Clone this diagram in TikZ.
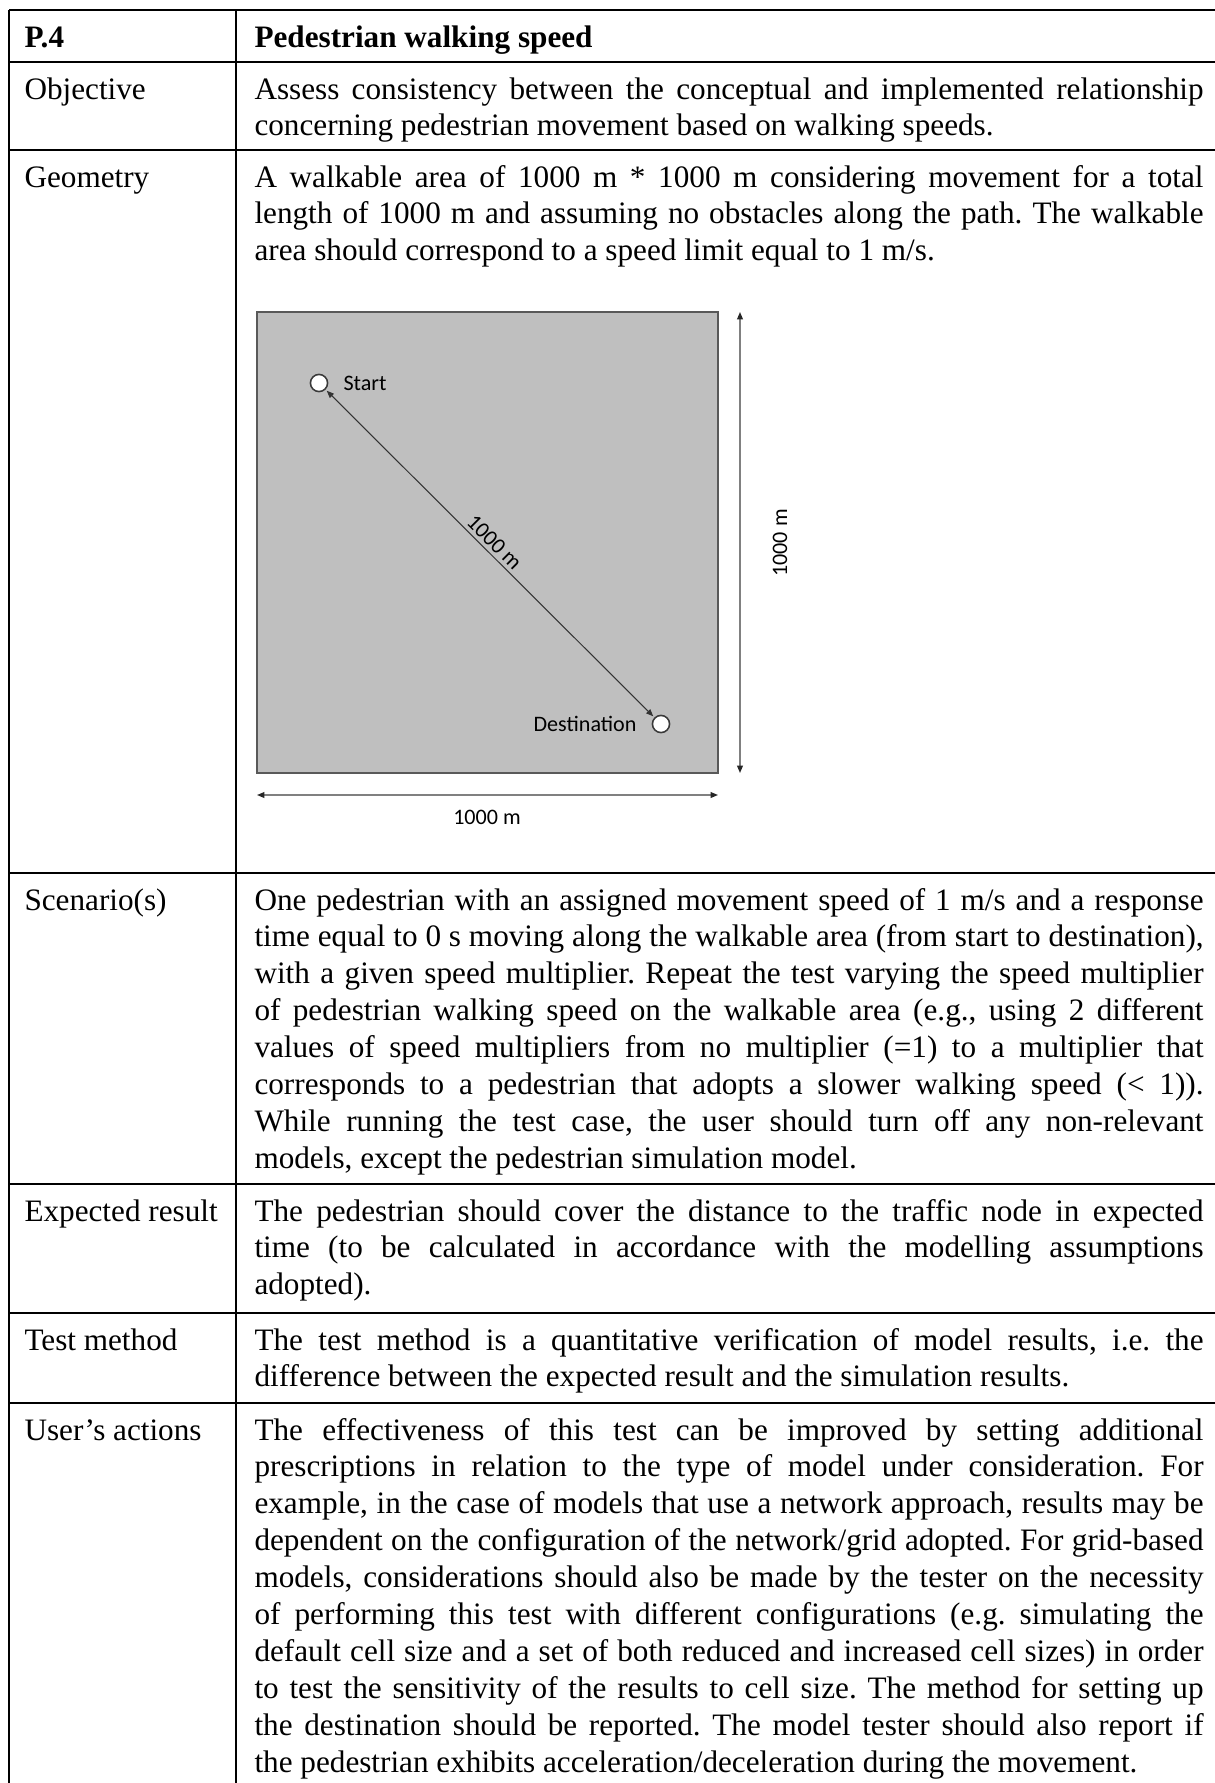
\documentclass[tikz,border=0pt]{standalone}
\usepackage{fontspec}
\setmainfont{Liberation Serif}
\newfontfamily\figfont{Carlito}
\usetikzlibrary{arrows.meta}

\definecolor{areafill}{HTML}{BFBFBF}
\definecolor{areaedge}{HTML}{595959}
\definecolor{spotedge}{HTML}{3A3A3A}
\definecolor{dimline}{HTML}{808080}
\definecolor{tipcol}{HTML}{262626}

% width of the text column and justified / ragged lines of a cell
\newlength{\cellw}
\setlength{\cellw}{365pt}
\newcommand{\jl}[1]{\hbox to \cellw{#1}}
\newcommand{\lastl}[1]{\hbox{#1}}
\newcommand{\cell}[1]{\vtop{\frenchspacing\baselineskip=14.2pt\lineskiplimit=-5pt #1}}

\begin{document}
\begin{tikzpicture}[x=0.3846pt,y=-0.3846pt,
  rule/.style={line width=0.8pt,black},
  rowname/.style={anchor=base west,inner sep=0,font=\fontsize{12}{14.2}\selectfont},
  celltext/.style={anchor=base west,inner sep=0,font=\fontsize{12}{14.2}\selectfont},
  figtext/.style={inner sep=0,font=\figfont\fontsize{8.5}{10}\selectfont},
  spot/.style={circle,draw=spotedge,fill=white,line width=0.6pt,minimum size=6.6pt,inner sep=0},
  diag/.style={draw=black!80,line width=0.4pt,
    {Triangle[length=2.8pt,width=2.2pt]}-{Triangle[length=2.8pt,width=2.2pt]},
    shorten <=0.6pt,shorten >=0.6pt},
  dim/.style={draw=dimline,line width=0.5pt,
    {Triangle[length=2.8pt,width=2.2pt,color=tipcol]}-{Triangle[length=2.8pt,width=2.2pt,color=tipcol]}}
]
\useasboundingbox (0,0) rectangle (1215,1783);

% ---- table rules
\draw[rule] (9,10) -- (1215,10);
\draw[rule] (9,62) -- (1215,62);
\draw[rule] (9,150) -- (1215,150);
\draw[rule] (9,873) -- (1215,873);
\draw[rule] (9,1184) -- (1215,1184);
\draw[rule] (9,1313) -- (1215,1313);
\draw[rule] (9,1403) -- (1215,1403);
\draw[rule] (9,10) -- (9,1783);
\draw[rule] (236,10) -- (236,1783);

% ---- left column
\node[rowname,font=\fontsize{12}{14.2}\selectfont\bfseries] (hid) at (24,47) {P.4};
\node[rowname] (nobj) at (24,99) {Objective};
\node[rowname] (ngeo) at (24,187) {Geometry};
\node[rowname] (nscn) at (24,910) {Scenario(s)};
\node[rowname] (nexp) at (24,1221) {Expected result};
\node[rowname] (ntst) at (24,1350) {Test method};
\node[rowname] (nusr) at (24,1440) {User’s actions};

% ---- right column
\node[celltext,font=\fontsize{12}{14.2}\selectfont\bfseries] (htitle) at (254,47) {Pedestrian walking speed};

\node[celltext] (tobj) at (254,99) {\cell{%
\jl{Assess consistency between the conceptual and implemented relationship}%
\lastl{concerning pedestrian movement based on walking speeds.}}};

\node[celltext] (tgeo) at (254,187) {\cell{%
\jl{A walkable area of 1000 m * 1000 m considering movement for a total}%
\jl{length of 1000 m and assuming no obstacles along the path. The walkable}%
\lastl{area should correspond to a speed limit equal to 1 m/s.}}};

\node[celltext] (tscn) at (254,910) {\cell{%
\jl{One pedestrian with an assigned movement speed of 1 m/s and a response}%
\jl{time equal to 0 s moving along the walkable area (from start to destination),}%
\jl{with a given speed multiplier. Repeat the test varying the speed multiplier}%
\jl{of pedestrian walking speed on the walkable area (e.g., using 2 different}%
\jl{values of speed multipliers from no multiplier (=1) to a multiplier that}%
\jl{corresponds to a pedestrian that adopts a slower walking speed (< 1)).}%
\jl{While running the test case, the user should turn off any non-relevant}%
\lastl{models, except the pedestrian simulation model.}}};

\node[celltext] (texp) at (254,1221) {\cell{%
\jl{The pedestrian should cover the distance to the traffic node in expected}%
\jl{time (to be calculated in accordance with the modelling assumptions}%
\lastl{adopted).}}};

\node[celltext] (ttst) at (254,1350) {\cell{%
\jl{The test method is a quantitative verification of model results, i.e. the}%
\lastl{difference between the expected result and the simulation results.}}};

\node[celltext] (tusr) at (254,1440) {\cell{%
\jl{The effectiveness of this test can be improved by setting additional}%
\jl{prescriptions in relation to the type of model under consideration. For}%
\jl{example, in the case of models that use a network approach, results may be}%
\jl{dependent on the configuration of the network/grid adopted. For grid-based}%
\jl{models, considerations should also be made by the tester on the necessity}%
\jl{of performing this test with different configurations (e.g. simulating the}%
\jl{default cell size and a set of both reduced and increased cell sizes) in order}%
\jl{to test the sensitivity of the results to cell size. The method for setting up}%
\jl{the destination should be reported. The model tester should also report if}%
\lastl{the pedestrian exhibits acceleration/deceleration during the movement.}}};

% ---- walkable area figure
\draw[fill=areafill,draw=areaedge,line width=0.7pt] (257,312) rectangle (718,773);
\node[spot] (start) at (319,383) {};
\node[spot] (dest) at (661,724) {};
\node[figtext,anchor=base west] (startlbl) at (343,390) {Start};
\node[figtext,anchor=base east] (destlbl) at (637,731) {Destination};
\draw[diag] (start) -- node[figtext,sloped,anchor=south,inner sep=1.2pt,pos=0.49] (diaglbl) {1000 m} (dest);

\coordinate (vtop) at (740,312);
\coordinate (vbot) at (740,773);
\draw[dim] (vtop) -- (vbot);
\node[figtext,rotate=90] (vlbl) at (780,543) {1000 m};

\coordinate (hleft) at (257,795);
\coordinate (hright) at (718,795);
\draw[dim] (hleft) -- (hright);
\node[figtext] (hlbl) at (487,817) {1000 m};
\end{tikzpicture}
\end{document}
